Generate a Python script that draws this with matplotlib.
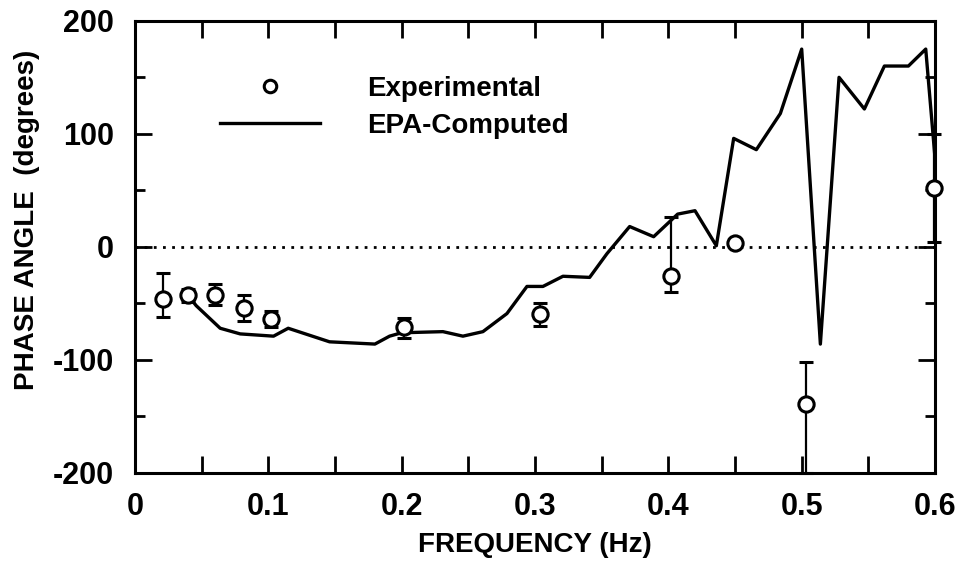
import matplotlib
matplotlib.use("Agg")
import matplotlib.pyplot as plt
from matplotlib.lines import Line2D
from matplotlib.ticker import MultipleLocator

plt.rcParams["font.family"] = ["Liberation Sans", "DejaVu Sans"]
plt.rcParams["font.weight"] = "bold"
plt.rcParams["axes.unicode_minus"] = False

# EPA-computed phase angle (line)
freq_comp = [0.040, 0.046, 0.064, 0.079, 0.104, 0.115, 0.146, 0.180, 0.191, 0.200,
             0.231, 0.246, 0.261, 0.279, 0.294, 0.306, 0.321, 0.341, 0.354, 0.371,
             0.389, 0.407, 0.420, 0.436, 0.449, 0.466, 0.484, 0.500, 0.514, 0.528,
             0.547, 0.562, 0.580, 0.593, 0.600]
phase_comp = [-43, -52, -72, -77, -79, -72, -84, -86, -79, -76,
              -75, -79, -75, -59, -35, -35, -26, -27, -6, 18,
              9, 29, 32, 1, 96, 86, 118, 175, -86, 150,
              122, 160, 160, 175, 78]

# experimental points with error bars
freq_exp = [0.021, 0.040, 0.060, 0.082, 0.102, 0.202, 0.304, 0.402, 0.450, 0.503, 0.599]
phase_exp = [-46, -43, -43, -54, -64, -71, -59, -26, 3, -139, 52]
err_low = [16, 6, 8, 12, 7, 10, 11, 14, 0, 61, 48]
err_high = [23, 6, 10, 11, 7, 8, 9, 52, 0, 37, 48]

x_ticks = [0, 0.1, 0.2, 0.3, 0.4, 0.5, 0.6]
x_ticklabels = ["0", "0.1", "0.2", "0.3", "0.4", "0.5", "0.6"]
y_ticks = [-200, -100, 0, 100, 200]
y_ticklabels = ["-200", "-100", "0", "100", "200"]

fig = plt.figure(figsize=(9.63, 5.63), dpi=100)
ax = fig.add_axes([0.140, 0.160, 0.831, 0.803])

# dotted zero reference line
ax.axhline(0, color="black", linewidth=2.0, linestyle=(0, (1, 2.3)), zorder=1)
ax.plot(freq_comp, phase_comp, color="black", linewidth=2.4, zorder=2)
eb = ax.errorbar(freq_exp, phase_exp, yerr=[err_low, err_high], fmt="o",
                 markersize=11, markerfacecolor="white", markeredgecolor="black",
                 markeredgewidth=2.2, ecolor="black", elinewidth=1.6,
                 capsize=5, capthick=2.4, zorder=3)
for art in eb.get_children():
    art.set_clip_on(False)

ax.set_xlim(0, 0.6)
ax.set_ylim(-200, 200)
ax.set_xticks(x_ticks)
ax.set_xticklabels(x_ticklabels)
ax.set_yticks(y_ticks)
ax.set_yticklabels(y_ticklabels)
ax.xaxis.set_minor_locator(MultipleLocator(0.05))
ax.yaxis.set_minor_locator(MultipleLocator(50))

ax.tick_params(axis="both", which="both", direction="in", top=True, right=True,
               width=2, labelsize=22, colors="black")
ax.tick_params(axis="x", which="both", length=12, pad=14)
ax.tick_params(axis="y", which="major", length=12, pad=15)
ax.tick_params(axis="y", which="minor", length=7)
for s in ax.spines.values():
    s.set_linewidth(2.2)

ax.set_xlabel("FREQUENCY (Hz)", fontsize=20, fontweight="bold")
ax.set_ylabel("PHASE ANGLE  (degrees)", fontsize=20, fontweight="bold")
ax.xaxis.set_label_coords(0.5, -0.13)
ax.yaxis.set_label_coords(-0.118, 0.56)

handles = [
    Line2D([], [], linestyle="none", marker="o", markersize=9,
           markerfacecolor="white", markeredgecolor="black", markeredgewidth=2.2),
    Line2D([], [], color="black", linewidth=2.4),
]
ax.legend(handles, ["Experimental", "EPA-Computed"], loc="upper left",
          bbox_to_anchor=(0.228, 0.865), bbox_transform=fig.transFigure,
          frameon=False, fontsize=20, handlelength=3.6, handletextpad=1.7,
          labelspacing=0.4, borderpad=0, borderaxespad=0)

fig.savefig("out.png", dpi=100, facecolor="white")
